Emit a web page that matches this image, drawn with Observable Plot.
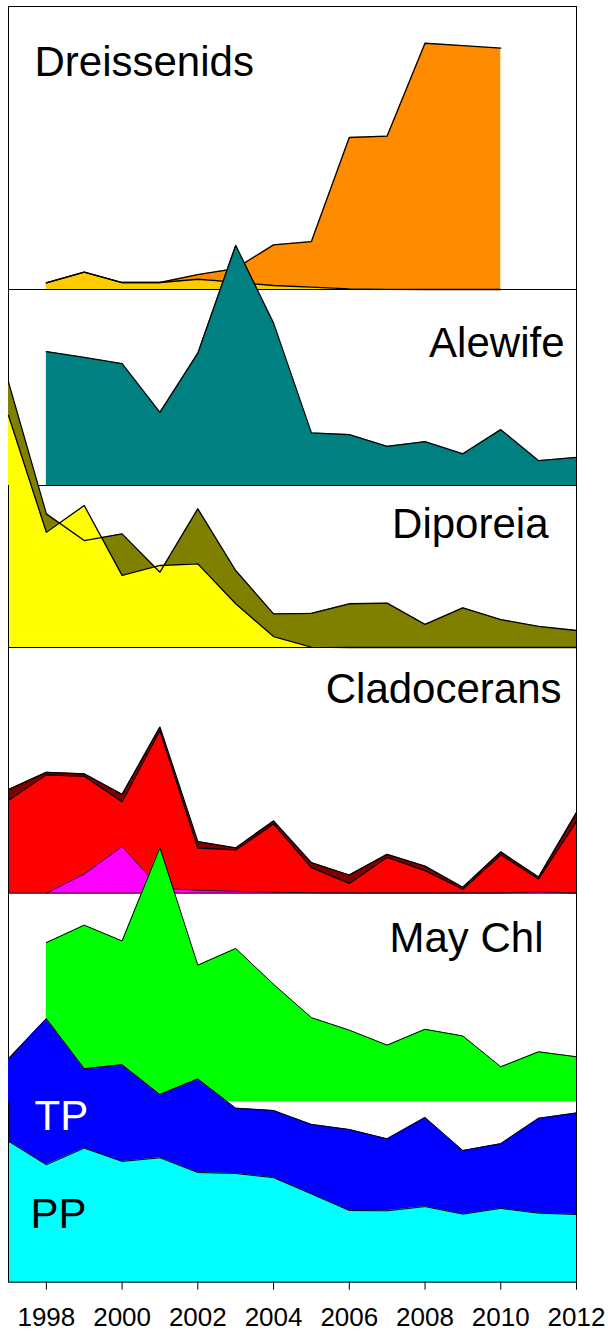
<!DOCTYPE html>
<html><head><meta charset="utf-8">
<script src="https://cdn.jsdelivr.net/npm/d3@7"></script>
<script src="https://cdn.jsdelivr.net/npm/@observablehq/plot@0.6"></script>
<style>
body{margin:0;background:#fff;}
#chart{position:relative;width:608px;height:1331px;overflow:hidden;}
#chart svg{position:absolute;left:0;}
</style></head><body><div id="chart"></div>
<script>
// ---- data (1997..2012) ----
const years = [1997,1998,1999,2000,2001,2002,2003,2004,2005,2006,2007,2008,2009,2010,2011,2012];
const xTicks = [1998,2000,2002,2004,2006,2008,2010,2012];

const quagga = [null,165,427,173,173,370,519,1104,1185,3760,3795,6091,6030,5968,null,null];
const zebra  = [null,165,427,173,173,254,180,99,57,17,5,0,0,0,null,null];

const alewife = [null,41.0,39.2,37.3,22.4,40.5,73.5,49.7,16.1,15.6,12.0,13.4,9.7,17.1,7.6,8.6];

const diporeiaA = [13100,6600,5280,5610,3720,6850,3800,1660,1690,2160,2190,1140,1960,1380,1040,840];
const diporeiaB = [11460,5690,7010,3560,4050,4130,2160,540,20,0,0,0,0,0,0,0];

const cladoTotal = [21.1,24.6,24.3,20.1,33.8,10.5,9.2,14.7,6.2,3.7,7.9,5.5,1.2,8.4,3.3,16.4];
const cladoMain  = [18.9,24.1,23.8,18.6,33.1,9.2,8.8,14.1,5.2,2.0,7.3,4.6,0.8,7.8,2.9,14.6];
const cladoOther = [null,0,3.9,9.5,1.0,0.6,0.4,0.2,0.1,0.05,0.05,0.05,0.05,0.05,0.3,0];

const mayChl = [null,1.91,2.12,1.93,3.05,1.64,1.84,1.41,1.01,0.86,0.68,0.87,0.79,0.42,0.60,0.54];
const tp = [7.42,8.75,7.09,7.22,6.23,6.75,5.78,5.70,5.24,5.07,4.76,5.47,4.37,4.60,5.44,5.62];
const pp = [4.68,3.90,4.45,4.01,4.13,3.64,3.61,3.47,2.93,2.38,2.37,2.51,2.26,2.45,2.29,2.25];

// ---- helpers ----
const rows = arr => years.map((year, i) => ({year, v: arr[i]})).filter(d => d.v != null);
const FONT = "'Liberation Sans', Arial, Helvetica, sans-serif";
const area = (arr, fill) => Plot.areaY(rows(arr), {x: "year", y1: 0, y2: "v", fill, curve: "linear"});
const line = (arr, w = 1.3) => Plot.lineY(rows(arr), {x: "year", y: "v", stroke: "#000", strokeWidth: w});
const frame = () => [
  Plot.ruleX([1997, 2012], {stroke: "#000", strokeWidth: 1}),
  Plot.ruleY([0], {stroke: "#000", strokeWidth: 1})
];
const label = (text, anchor, dx, dy, fill = "#000") => Plot.text([text], {
  text: d => d, frameAnchor: anchor, textAnchor: anchor.endsWith("left") ? "start" : "end",
  lineAnchor: "bottom", dx, dy, fontSize: 42, fill, fontFamily: FONT
});

const chart = document.getElementById("chart");
function panel({top, base, max, marks, bottom = 0, axis = false}) {
  const svg = Plot.plot({
    width: 608, height: base - top + bottom,
    marginLeft: 8, marginRight: 32, marginTop: 0, marginBottom: bottom,
    x: {domain: [1997, 2012], axis: null},
    y: {domain: [0, max], axis: null},
    style: {background: "transparent", overflow: "visible", fontFamily: FONT},
    marks: [
      ...marks,
      ...(axis ? [Plot.axisX({ticks: xTicks, tickFormat: d => String(d), tickSize: 8, tickPadding: 17,
                              fontSize: 26, label: null, stroke: "#000", fill: "#000", fontFamily: FONT})] : [])
    ]
  });
  svg.style.top = top + "px";
  chart.appendChild(svg);
}

// Dreissenids
panel({top: 6, base: 289, max: 7000, marks: [
  area(quagga, "#FF8C00"), area(zebra, "#FFCC00"),
  line(quagga), line(zebra),
  ...frame(), Plot.ruleY([7000], {stroke: "#000"}),
  label("Dreissenids", "top-left", 26, 69)
]});
// Alewife
panel({top: 289, base: 485, max: 60, marks: [
  area(alewife, "#008080"), line(alewife),
  ...frame(),
  label("Alewife", "top-right", -12, 67)
]});
// Diporeia
panel({top: 485, base: 647, max: 8000, marks: [
  area(diporeiaA, "#808000"), area(diporeiaB, "#FFFF00"),
  line(diporeiaA), line(diporeiaB),
  ...frame(),
  label("Diporeia", "top-right", -28, 52)
]});
// Cladocerans
panel({top: 647, base: 892.7, max: 50, marks: [
  area(cladoTotal, "#800000"), area(cladoMain, "#FF0000"), area(cladoOther, "#FF00FF"),
  line(cladoTotal), line(cladoMain), line(cladoOther, 0.8),
  ...frame(),
  label("Cladocerans", "top-right", -15, 56)
]});
// May Chl
panel({top: 892.7, base: 1101, max: 2.5, marks: [
  area(mayChl, "#00FF00"), line(mayChl, 1),
  Plot.ruleX([1997, 2012], {stroke: "#000", strokeWidth: 1}),
  label("May Chl", "top-right", -33, 59)
]});
// TP / PP
panel({top: 1101, base: 1281.7, max: 6, bottom: 49.3, axis: true, marks: [
  area(tp, "#0000FF"), area(pp, "#00FFFF"),
  line(tp, 1), line(pp, 1),
  ...frame(),
  label("TP", "top-left", 26, 28, "#fff"),
  label("PP", "top-left", 22, 126)
]});
</script></body></html>
